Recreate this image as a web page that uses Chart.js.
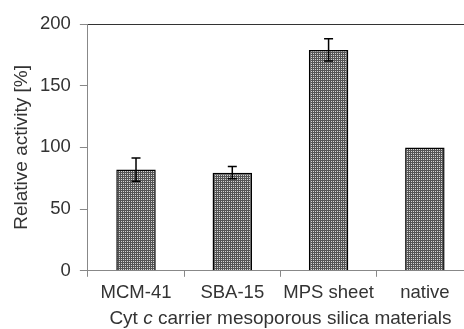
<!DOCTYPE html>
<html>
<head>
<meta charset="utf-8">
<script src="https://cdn.jsdelivr.net/npm/chart.js@4/dist/chart.umd.min.js"></script>
<style>
  html, body { margin: 0; padding: 0; background: #fff; overflow: hidden; }
  #wrap { width: 480px; height: 329px; }
</style>
</head>
<body>
<div id="wrap"><canvas id="chart" width="480" height="329"></canvas></div>
<script>
// Data
const categories = ["MCM-41", "SBA-15", "MPS sheet", "native"];
const activity = [82, 79.5, 179, 100];
const activityErr = [9.5, 5, 9, 0];
const yTicks = [0, 50, 100, 150, 200];
// x title, the "c" is set in italics
const xTitleParts = [["Cyt ", false], ["c", true], [" carrier mesoporous silica materials", false]];

const family = "'Liberation Sans', Arial, sans-serif";
const font = { family: family, size: 18.5 };
const titleFont = { family: family, size: 19, lineHeight: 1.0 };

// dotted grey fill like the original bars
function makePattern() {
  const c = document.createElement("canvas");
  c.width = 2;
  c.height = 2;
  const g = c.getContext("2d");
  g.fillStyle = "#555";
  g.fillRect(0, 0, 2, 2);
  g.fillStyle = "#d4d4d4";
  g.fillRect(1, 1, 1, 1);
  return g.createPattern(c, "repeat");
}

// simple error bar plugin (draws through the chart's scales)
const errorBars = {
  id: "errorBars",
  afterDatasetsDraw(chart) {
    const ctx = chart.ctx;
    const meta = chart.getDatasetMeta(0);
    const y = chart.scales.y;
    ctx.save();
    ctx.strokeStyle = "#000";
    ctx.lineWidth = 1.5;
    meta.data.forEach((bar, i) => {
      const err = activityErr[i];
      if (!err) return;
      const x = bar.x;
      const top = y.getPixelForValue(activity[i] + err);
      const bot = y.getPixelForValue(activity[i] - err);
      ctx.beginPath();
      ctx.moveTo(x, top);
      ctx.lineTo(x, bot);
      ctx.moveTo(x - 4.5, top);
      ctx.lineTo(x + 4.5, top);
      ctx.moveTo(x - 4.5, bot);
      ctx.lineTo(x + 4.5, bot);
      ctx.stroke();
    });
    ctx.restore();
  }
};

// x title drawn with mixed styles in the bottom padding
const xTitle = {
  id: "xTitle",
  afterDraw(chart) {
    const ctx = chart.ctx;
    const xs = chart.scales.x;
    ctx.save();
    ctx.fillStyle = "#333";
    ctx.textBaseline = "middle";
    const fonts = xTitleParts.map(p => (p[1] ? "italic " : "") + titleFont.size + "px " + family);
    let total = 0;
    const widths = xTitleParts.map((p, i) => {
      ctx.font = fonts[i];
      const w = ctx.measureText(p[0]).width;
      total += w;
      return w;
    });
    let x = (xs.left + xs.right) / 2 - total / 2;
    const y = chart.height - 10;
    xTitleParts.forEach((p, i) => {
      ctx.font = fonts[i];
      ctx.fillText(p[0], x, y);
      x += widths[i];
    });
    ctx.restore();
  }
};

new Chart(document.getElementById("chart"), {
  type: "bar",
  data: {
    labels: categories,
    datasets: [{
      data: activity,
      backgroundColor: makePattern(),
      borderColor: "#000",
      borderWidth: 1.5,
      borderSkipped: "bottom",
      barPercentage: 0.41,
      categoryPercentage: 1
    }]
  },
  options: {
    responsive: false,
    animation: false,
    layout: { padding: { top: 24, right: 7, left: 12, bottom: 20 } },
    plugins: { legend: { display: false }, tooltip: { enabled: false } },
    scales: {
      x: {
        grid: { offset: true, drawOnChartArea: false, tickColor: "#888", tickLength: 6 },
        border: { color: "#888" },
        ticks: { color: "#333", font: font, padding: 5, maxRotation: 0, autoSkip: false }
      },
      y: {
        min: 0,
        max: 200,
        afterBuildTicks(axis) {
          axis.ticks = yTicks.map(v => ({ value: v }));
        },
        grid: {
          color: c => (c.tick && c.tick.value === 200 ? "#333" : "transparent"),
          tickColor: "#888",
          tickLength: 8
        },
        border: { color: "#888" },
        ticks: { color: "#333", font: font, padding: 9 },
        title: {
          display: true,
          text: "Relative activity [%]",
          color: "#333",
          font: titleFont,
          padding: { top: 0, bottom: 0 }
        }
      }
    }
  },
  plugins: [errorBars, xTitle]
});
</script>
</body>
</html>
